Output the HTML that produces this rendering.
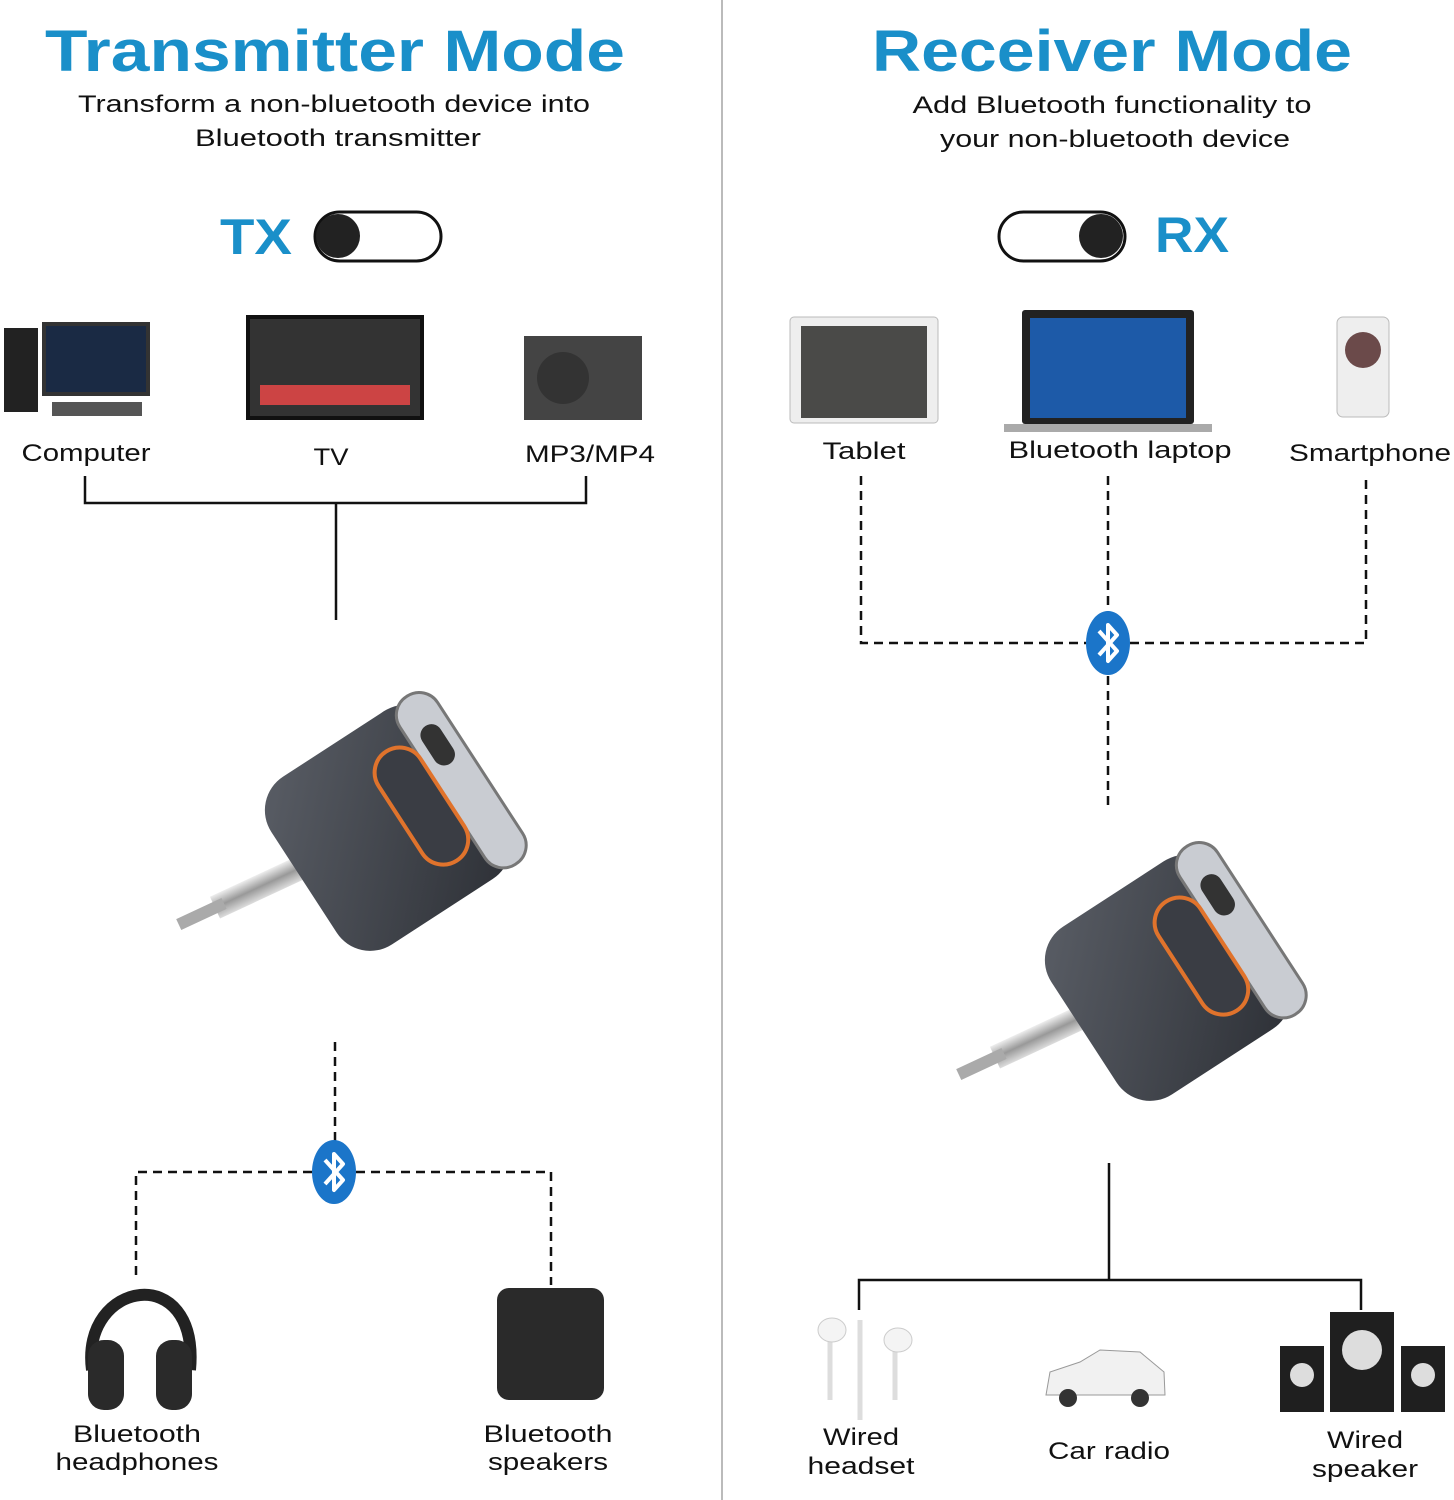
<!DOCTYPE html>
<html><head><meta charset="utf-8"><style>
html,body{margin:0;padding:0;background:#fff}
svg{display:block}
text{font-family:"Liberation Sans",sans-serif}
</style></head><body>
<svg width="1454" height="1500" viewBox="0 0 1454 1500" xmlns="http://www.w3.org/2000/svg">
<defs>
<linearGradient id="body" x1="0" y1="0" x2="1" y2="1"><stop offset="0" stop-color="#5a5e66"/><stop offset="1" stop-color="#2c2f35"/></linearGradient>
<linearGradient id="jack" x1="0" y1="0" x2="0" y2="1"><stop offset="0" stop-color="#eee"/><stop offset=".5" stop-color="#999"/><stop offset="1" stop-color="#ddd"/></linearGradient>
<g id="adapter">
  <rect x="-160" y="-12" width="110" height="24" fill="url(#jack)" transform="rotate(-25)"/>
  <rect x="-200" y="-6" width="50" height="12" fill="#aaa" transform="rotate(-25)"/>
  <g transform="rotate(-33)">
    <rect x="-70" y="-95" width="200" height="200" rx="40" fill="url(#body)"/>
    <rect x="95" y="-95" width="45" height="200" rx="22" fill="#c9ccd2" stroke="#777" stroke-width="3"/>
    <rect x="45" y="-60" width="50" height="130" rx="25" fill="#3a3d44" stroke="#e0732c" stroke-width="4"/>
    <rect x="106" y="-60" width="22" height="45" rx="11" fill="#333"/>
  </g>
</g>
<g id="bt">
  <ellipse cx="0" cy="0" rx="22" ry="32" fill="#1b75c9"/>
  <path d="M-9,-12 L9,8 L0,18 L0,-18 L9,-8 L-9,12" stroke="#fff" stroke-width="4" fill="none" stroke-linejoin="round"/>
</g>
</defs>

<line x1="722" y1="0" x2="722" y2="1500" stroke="#bbb" stroke-width="2"/>

<g fill="#1a8fc9" font-weight="bold" font-size="58" text-anchor="middle" lengthAdjust="spacingAndGlyphs">
  <text x="335" y="71" textLength="580" lengthAdjust="spacingAndGlyphs">Transmitter Mode</text>
  <text x="1112" y="71" textLength="480" lengthAdjust="spacingAndGlyphs">Receiver Mode</text>
  <text x="256" y="254" font-size="50" textLength="72" lengthAdjust="spacingAndGlyphs">TX</text>
  <text x="1192" y="252" font-size="50" textLength="74" lengthAdjust="spacingAndGlyphs">RX</text>
</g>
<g fill="#111" font-size="24" text-anchor="middle">
  <text x="334" y="112" textLength="512" lengthAdjust="spacingAndGlyphs">Transform a non-bluetooth device into</text>
  <text x="338" y="146" textLength="286" lengthAdjust="spacingAndGlyphs">Bluetooth transmitter</text>
  <text x="1112" y="113" textLength="399" lengthAdjust="spacingAndGlyphs">Add Bluetooth functionality to</text>
  <text x="1115" y="147" textLength="350" lengthAdjust="spacingAndGlyphs">your non-bluetooth device</text>
  <text x="86" y="461" textLength="129" lengthAdjust="spacingAndGlyphs">Computer</text>
  <text x="331" y="465" textLength="35" lengthAdjust="spacingAndGlyphs">TV</text>
  <text x="590" y="462" textLength="130" lengthAdjust="spacingAndGlyphs">MP3/MP4</text>
  <text x="864" y="459" textLength="83" lengthAdjust="spacingAndGlyphs">Tablet</text>
  <text x="1120" y="458" textLength="223" lengthAdjust="spacingAndGlyphs">Bluetooth laptop</text>
  <text x="1370" y="461" textLength="162" lengthAdjust="spacingAndGlyphs">Smartphone</text>
  <text x="137" y="1442" textLength="128" lengthAdjust="spacingAndGlyphs">Bluetooth</text>
  <text x="137" y="1470" textLength="163" lengthAdjust="spacingAndGlyphs">headphones</text>
  <text x="548" y="1442" textLength="129" lengthAdjust="spacingAndGlyphs">Bluetooth</text>
  <text x="548" y="1470" textLength="120" lengthAdjust="spacingAndGlyphs">speakers</text>
  <text x="861" y="1445" textLength="76" lengthAdjust="spacingAndGlyphs">Wired</text>
  <text x="861" y="1474" textLength="107" lengthAdjust="spacingAndGlyphs">headset</text>
  <text x="1109" y="1459" textLength="122" lengthAdjust="spacingAndGlyphs">Car radio</text>
  <text x="1365" y="1448" textLength="76" lengthAdjust="spacingAndGlyphs">Wired</text>
  <text x="1365" y="1477" textLength="106" lengthAdjust="spacingAndGlyphs">speaker</text>
</g>

<rect x="315" y="212" width="126" height="49" rx="24.5" fill="#fff" stroke="#111" stroke-width="3"/>
<circle cx="338" cy="236" r="22" fill="#222"/>
<rect x="999" y="212" width="126" height="49" rx="24.5" fill="#fff" stroke="#111" stroke-width="3"/>
<circle cx="1101" cy="236" r="22" fill="#222"/>

<rect x="4" y="328" width="34" height="84" fill="#222"/>
<rect x="44" y="324" width="104" height="70" fill="#1a2a44" stroke="#333" stroke-width="4"/>
<rect x="52" y="402" width="90" height="14" fill="#555"/>
<rect x="248" y="317" width="174" height="101" fill="#333" stroke="#111" stroke-width="4"/>
<rect x="260" y="385" width="150" height="20" fill="#c44"/>
<rect x="524" y="336" width="118" height="84" fill="#444"/>
<circle cx="563" cy="378" r="26" fill="#333"/>

<rect x="790" y="317" width="148" height="106" rx="4" fill="#eee" stroke="#bbb"/>
<rect x="801" y="326" width="126" height="92" fill="#4a4a48"/>
<rect x="1022" y="310" width="172" height="114" rx="3" fill="#222"/>
<rect x="1030" y="318" width="156" height="100" fill="#1d5aa8"/>
<rect x="1004" y="424" width="208" height="8" fill="#aaa"/>
<rect x="1337" y="317" width="52" height="100" rx="6" fill="#eee" stroke="#bbb"/>
<circle cx="1363" cy="350" r="18" fill="#6b4a4a"/>

<path d="M85,476 V503 H586 V476 M336,503 V620" stroke="#111" stroke-width="2.5" fill="none"/>
<path d="M335,1042 V1145 M312,1172 H136 V1280 M356,1172 H551 V1285" stroke="#111" stroke-width="2.5" stroke-dasharray="9,6" fill="none"/>
<use href="#bt" x="334" y="1172"/>

<path d="M861,476 V643 H1086 M1130,643 H1366 V476 M1108,476 V612 M1108,676 V805" stroke="#111" stroke-width="2.5" stroke-dasharray="9,6" fill="none"/>
<use href="#bt" x="1108" y="643"/>
<path d="M1109,1163 V1280 M859,1310 V1280 H1361 V1310" stroke="#111" stroke-width="2.5" fill="none"/>

<use href="#adapter" x="360" y="840"/>
<use href="#adapter" x="1140" y="990"/>

<path d="M92,1370 C80,1280 200,1260 190,1370" stroke="#222" stroke-width="12" fill="none"/>
<rect x="88" y="1340" width="36" height="70" rx="16" fill="#2a2a2a"/>
<rect x="156" y="1340" width="36" height="70" rx="16" fill="#2a2a2a"/>
<rect x="497" y="1288" width="107" height="112" rx="12" fill="#2a2a2a"/>
<path d="M830,1330 V1400 M860,1320 V1420 M895,1340 V1400" stroke="#ddd" stroke-width="5" fill="none"/>
<ellipse cx="832" cy="1330" rx="14" ry="12" fill="#f4f4f4" stroke="#ccc"/>
<ellipse cx="898" cy="1340" rx="14" ry="12" fill="#f4f4f4" stroke="#ccc"/>
<path d="M1046,1395 L1050,1372 L1080,1362 L1100,1350 L1140,1352 L1164,1372 L1165,1395 Z" fill="#f1f1f1" stroke="#999"/>
<circle cx="1068" cy="1398" r="9" fill="#333"/><circle cx="1140" cy="1398" r="9" fill="#333"/>
<rect x="1280" y="1346" width="44" height="66" fill="#1f1f1f"/>
<rect x="1330" y="1312" width="64" height="100" fill="#1f1f1f"/>
<rect x="1401" y="1346" width="44" height="66" fill="#1f1f1f"/>
<circle cx="1302" cy="1375" r="12" fill="#ddd"/><circle cx="1362" cy="1350" r="20" fill="#ddd"/><circle cx="1423" cy="1375" r="12" fill="#ddd"/>
</svg>
</body></html>
